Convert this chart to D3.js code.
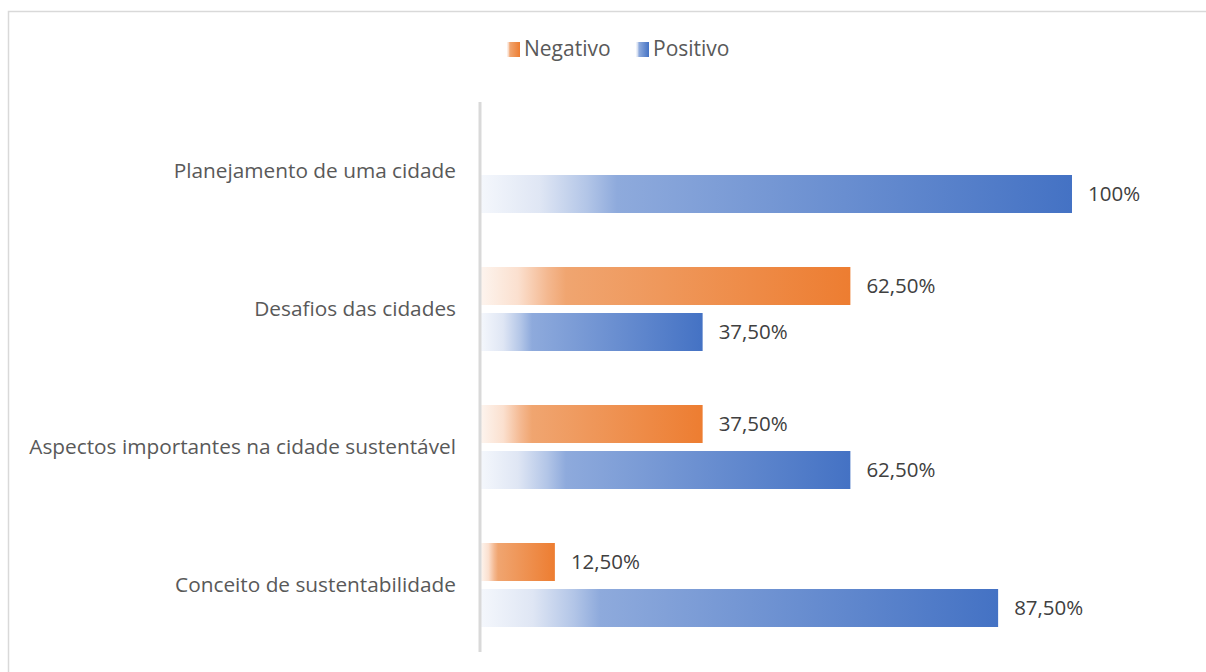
<!DOCTYPE html>
<html><head><meta charset="utf-8">
<script src="https://cdn.jsdelivr.net/npm/d3@7"></script>
<style>html,body{margin:0;padding:0;background:#fff;}svg{display:block;}</style>
</head><body>
<svg id="chart" width="1206" height="672"></svg>
<script>
const categories = ["Planejamento de uma cidade","Desafios das cidades","Aspectos importantes na cidade sustentável","Conceito de sustentabilidade"];
const seriesNames = ["Negativo","Positivo"];
const negativo = [0, 62.5, 37.5, 12.5];
const positivo = [100, 37.5, 62.5, 87.5];
const colors = {Negativo:"#ED7D31", Positivo:"#4472C4"};
const light = {Negativo:["#fdf4ee","#fbe0cf","#f4b890","#f0a570"], Positivo:["#f4f7fc","#dfe6f4","#b2c5e7","#8eaadc"]};

const FONT = "'Open Sans', Lato, sans-serif";
const svg = d3.select("#chart");
svg.append("rect").attr("x",8.5).attr("y",11.5).attr("width",1400).attr("height",1000)
  .attr("fill","#fff").attr("stroke","#d9d9d9").attr("stroke-width",1.5);

const defs = svg.append("defs");
seriesNames.forEach(s=>{
  const g = defs.append("linearGradient").attr("id","grad-"+s).attr("x1","0").attr("x2","1").attr("y1","0").attr("y2","0");
  const L = light[s];
  [[0,L[0]],[0.1,L[1]],[0.18,L[2]],[0.23,L[3]],[1,colors[s]]].forEach(([o,c])=>g.append("stop").attr("offset",o).attr("stop-color",c));
});

const data = categories.map((c,i)=>({cat:c, Negativo:negativo[i], Positivo:positivo[i]}));
const x = d3.scaleLinear().domain([0,100]).range([481,1072]);
const y0 = d3.scaleBand().domain(categories).range([102,654]).paddingInner(54/138).paddingOuter(27/138);
const y1 = d3.scaleBand().domain(seriesNames).range([0,y0.bandwidth()]).paddingInner(8/46);

const fmt = v => Number.isInteger(v) ? v+"%" : v.toFixed(2).replace(".",",")+"%";

const groups = svg.append("g").selectAll("g").data(data).join("g")
  .attr("transform",d=>`translate(0,${y0(d.cat)})`);
groups.selectAll("rect").data(d=>seriesNames.map(s=>({s, v:d[s]})).filter(e=>e.v>0)).join("rect")
  .attr("x",x(0)).attr("y",e=>y1(e.s)).attr("height",y1.bandwidth())
  .attr("width",e=>x(e.v)-x(0)).attr("fill",e=>`url(#grad-${e.s})`);
groups.selectAll("text.val").data(d=>seriesNames.map(s=>({s, v:d[s]})).filter(e=>e.v>0)).join("text")
  .attr("class","val").attr("x",e=>x(e.v)+16).attr("y",e=>y1(e.s)+y1.bandwidth()/2)
  .attr("dy","0.35em").attr("font-family",FONT).attr("font-size",20.5).attr("fill","#404040").text(e=>fmt(e.v));

// category axis
const yAxisPos = d3.scaleBand().domain(categories).range([102,654]);
svg.append("g").selectAll("text").data(categories).join("text")
  .attr("x",456).attr("y",d=>yAxisPos(d)+yAxisPos.bandwidth()/2).attr("dy","0.35em")
  .attr("text-anchor","end").attr("font-family",FONT).attr("font-size",20.8).attr("fill","#595959").text(d=>d);
svg.append("line").attr("x1",480).attr("x2",480).attr("y1",102).attr("y2",652)
  .attr("stroke","#d9d9d9").attr("stroke-width",3);

// legend
const legend = svg.append("g");
const legendPos = {Negativo:507, Positivo:636};
seriesNames.forEach(s=>{
  legend.append("rect").attr("x",legendPos[s]).attr("y",42).attr("width",13).attr("height",15).attr("fill",`url(#grad-${s})`);
  legend.append("text").attr("x",legendPos[s]+17).attr("y",49).attr("dy","0.35em")
    .attr("font-family",FONT).attr("font-size",21).attr("fill","#595959").text(s);
});
</script>
</body></html>
